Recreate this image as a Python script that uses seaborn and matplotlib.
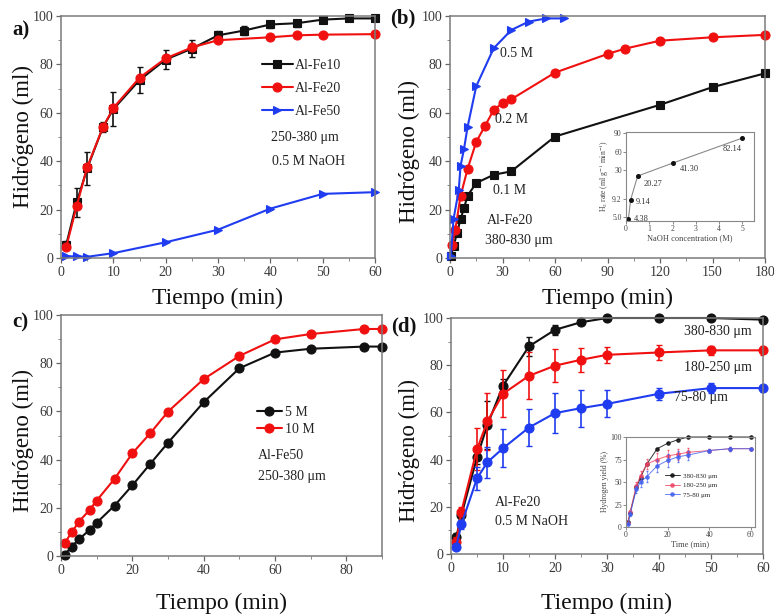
import numpy as np
import pandas as pd
import matplotlib
matplotlib.use("Agg")
import matplotlib.pyplot as plt
import seaborn as sns
from matplotlib.ticker import AutoMinorLocator, FixedLocator, FixedFormatter

# ---------------- data ----------------
# panel a (250-380 um, 0.5 M NaOH)
a_t_fe10 = [1, 3, 5, 8, 10, 15, 20, 25, 30, 35, 40, 45, 50, 55, 60]
a_h_fe10 = [5.5, 23, 37, 54, 61.5, 73.5, 82, 86.5, 92, 94, 96.5, 97, 98.5, 99, 99]
a_e_fe10 = [1.5, 6, 7, 2, 7, 5.5, 4, 3.5, 2, 2, 1.5, 1.5, 1, 1, 1]
a_t_fe20 = [1, 3, 5, 8, 10, 15, 20, 25, 30, 40, 45, 50, 60]
a_h_fe20 = [4.5, 21.5, 37.5, 54, 62, 74.5, 82.5, 87, 90, 91.2, 92, 92.3, 92.5]
a_t_fe50 = [1, 3, 5, 10, 20, 30, 40, 50, 60]
a_h_fe50 = [0.7, 0.7, 0.5, 2, 6.5, 11.7, 20.4, 26.5, 27.2]
a_labels = ["Al-Fe10", "Al-Fe20", "Al-Fe50"]

# panel b (Al-Fe20, 380-830 um)
b_t_01 = [0.5, 2, 4, 6, 8, 10, 15, 25, 35, 60, 120, 150, 180]
b_h_01 = [1, 4.8, 10.3, 16, 20.6, 25.7, 31, 34.4, 35.8, 50.2, 63.3, 70.6, 76.3]
b_t_02 = [1, 3, 6, 10, 15, 20, 25, 30, 35, 60, 90, 100, 120, 150, 180]
b_h_02 = [5.5, 11.5, 25.5, 36.7, 48, 54.6, 61.2, 64, 65.6, 76.6, 84.3, 86.5, 89.8, 91.2, 92.2]
b_t_05 = [0.5, 2, 5, 6, 8, 10, 15, 25, 35, 45, 55, 65]
b_h_05 = [1, 16, 28, 38, 45, 54, 71, 86.7, 94.2, 97.7, 99, 99]
b_labels = ["0.1 M", "0.2 M", "0.5 M"]

# panel b inset
bi_conc = [0.1, 0.2, 0.5, 2, 5]
bi_rate = [4.38, 9.14, 20.27, 41.30, 82.14]
bi_rate_labels = ["4.38", "9.14", "20.27", "41.30", "82.14"]
bi_yticks = [5, 9.2, 30, 60, 90]
bi_yticklabels = ["5.0", "9.2", "30", "60", "90"]

# panel c (Al-Fe50, 250-380 um)
c_t = [1, 3, 5, 8, 10, 15, 20, 25, 30, 40, 50, 60, 70, 85, 90]
c_h_5M = [0.5, 3.9, 6.9, 10.8, 13.8, 20.9, 29.3, 38.2, 47, 63.8, 77.9, 84.4, 86, 86.9, 86.9]
c_h_10M = [5.3, 9.8, 14.2, 19.1, 23, 32, 42.6, 50.9, 59.9, 73.4, 83, 89.9, 92.1, 94.2, 94.2]
c_labels = ["5 M", "10 M"]

# panel d (Al-Fe20, 0.5 M NaOH)
d_t = [1, 2, 5, 7, 10, 15, 20, 25, 30, 40, 50, 60]
d_h_large = [7, 16.5, 41, 54.7, 71.3, 88, 95, 98.2, 100, 100, 100, 99.3]
d_e_large = [2, 2, 3, 10, 3, 4, 2, 1, 0.5, 0.5, 0.5, 0.5]
d_h_mid = [5.2, 18, 44.4, 56.2, 67.9, 75.5, 79.8, 82.3, 84.4, 85.4, 86.3, 86.3]
d_e_mid = [2, 2, 9, 12, 10, 10, 7, 5, 3.5, 3, 2, 2]
d_h_small = [3.1, 12.6, 32, 38.9, 44.8, 53.6, 59.7, 61.8, 63.6, 67.9, 70.3, 70.3]
d_e_small = [1, 2, 5, 6.5, 8, 8, 8.5, 7.8, 5.7, 2.5, 2, 1.5]
d_labels = ["380-830 \u03bcm", "180-250 \u03bcm", "75-80 \u03bcm"]

# panel d inset (yield %)
di_t = [1, 2, 5, 7, 10, 15, 20, 25, 30, 40, 50, 60]
di_large = [6, 16, 44, 55, 70, 87, 93, 97, 100, 100, 100, 100]
di_mid = [5, 17, 46, 57, 70, 75, 79, 81, 83, 85, 87, 87]
di_small = [3, 14, 42, 50, 56, 68, 74, 78, 80, 85, 87, 87]
di_e = [1, 2, 4, 5, 6, 7, 7, 6, 5, 2, 2, 1]

# ---------------- style ----------------
sns.set_theme(style="ticks")
plt.rcParams["font.family"] = ["Liberation Serif", "DejaVu Serif"]
plt.rcParams["mathtext.fontset"] = "stix"

BLACK = "#111111"
RED = "#f01010"
BLUE = "#1f3cf0"

W, H = 774, 616
fig = plt.figure(figsize=(W / 100, H / 100), dpi=100)


def px_axes(left, top, right, bottom):
    return fig.add_axes([left / W, 1 - bottom / H, (right - left) / W, (bottom - top) / H])


def series(ax, x, y, color, marker, ms=6, lw=1.5, err=None, alpha=1.0, capsize=2.2, elw=1.2):
    df = pd.DataFrame({"t": x, "h": y})
    sns.lineplot(data=df, x="t", y="h", ax=ax, color=color, marker=marker,
                 markersize=ms, markeredgecolor=color, markeredgewidth=0.8,
                 linewidth=lw, errorbar=None, sort=False, alpha=alpha, legend=False)
    line = ax.lines[-1]
    line.set_clip_on(False)
    if err is not None:
        ax.errorbar(x, y, yerr=err, fmt="none", ecolor=color, elinewidth=elw,
                    capsize=capsize, capthick=1.0, alpha=alpha)
    return line


def style(ax, xlim, xticks, ylab_x, ylab_y, xlab_y):
    ax.set_xlim(*xlim)
    ax.set_ylim(0, 100)
    ax.set_xticks(xticks)
    ax.set_yticks(range(0, 101, 20))
    ax.xaxis.set_minor_locator(AutoMinorLocator(2))
    ax.yaxis.set_minor_locator(AutoMinorLocator(2))
    ax.tick_params(which="major", direction="out", length=3.5, width=0.9, color="#666",
                   labelsize=10, labelcolor="#3a3a3a", pad=2)
    ax.tick_params(which="minor", direction="out", length=2, width=0.7, color="#888")
    for s in ax.spines.values():
        s.set_visible(True)
        s.set_color("#7a7a7a")
        s.set_linewidth(1.1)
    ax.set_xlabel("Tiempo (min)", fontsize=17, color="#111")
    ax.xaxis.set_label_coords(0.5, xlab_y)
    ax.set_ylabel("Hidrógeno (ml)", fontsize=16.5, color="#111")
    ax.yaxis.set_label_coords(ylab_x, ylab_y)


txt_kw = dict(fontsize=10, color="#222")

# ---------------- panel a ----------------
ax_a = px_axes(61, 16, 375, 258)
la1 = series(ax_a, a_t_fe10, a_h_fe10, BLACK, "s", ms=5.5, err=a_e_fe10)
la2 = series(ax_a, a_t_fe20, a_h_fe20, RED, "o", ms=6.5)
la3 = series(ax_a, a_t_fe50, a_h_fe50, BLUE, ">", ms=6)
style(ax_a, (0, 60), range(0, 61, 10), -0.086, 0.5, -0.124)
ax_a.legend([la1, la2, la3], a_labels, loc="upper left", bbox_to_anchor=(0.64, 0.822),
            frameon=False, fontsize=10, handlelength=2.2, handletextpad=0.2,
            labelspacing=0.72, borderpad=0, borderaxespad=0)
ax_a.text(0.777, 0.496, "250-380 \u03bcm", ha="center", va="center", transform=ax_a.transAxes, **txt_kw)
ax_a.text(0.787, 0.397, "0.5 M NaOH", ha="center", va="center", transform=ax_a.transAxes, **txt_kw)

# ---------------- panel b ----------------
ax_b = px_axes(450, 16, 765, 258)
series(ax_b, b_t_01, b_h_01, BLACK, "s", ms=6)
series(ax_b, b_t_02, b_h_02, RED, "o", ms=6.5)
series(ax_b, b_t_05, b_h_05, BLUE, ">", ms=6)
style(ax_b, (0, 180), range(0, 181, 30), -0.095, 0.44, -0.124)
ax_b.text(0.159, 0.847, b_labels[2], ha="left", va="center", transform=ax_b.transAxes, **txt_kw)
ax_b.text(0.143, 0.574, b_labels[1], ha="left", va="center", transform=ax_b.transAxes, **txt_kw)
ax_b.text(0.137, 0.277, b_labels[0], ha="left", va="center", transform=ax_b.transAxes, **txt_kw)
ax_b.text(0.117, 0.153, "Al-Fe20", ha="left", va="center", transform=ax_b.transAxes, **txt_kw)
ax_b.text(0.111, 0.074, "380-830 \u03bcm", ha="left", va="center", transform=ax_b.transAxes, **txt_kw)

# inset b
ax_bi = px_axes(626, 132, 754, 221)
_vals = [0, 4, 10, 20, 100]
_pos = [-50, 0, 75, 135, 283]
ax_bi.set_yscale("function", functions=(lambda v: np.interp(v, _vals, _pos),
                                         lambda p: np.interp(p, _pos, _vals)))
sns.lineplot(x=bi_conc, y=bi_rate, ax=ax_bi, color="#8a8a8a", linewidth=0.8, marker="o",
             markersize=2.8, markerfacecolor="#111", markeredgecolor="#111", errorbar=None,
             sort=False, legend=False)
ax_bi.set_xlim(0, 5.5)
ax_bi.set_ylim(4.0, 92)
ax_bi.set_xticks(range(0, 6))
ax_bi.yaxis.set_major_locator(FixedLocator(bi_yticks))
ax_bi.yaxis.set_major_formatter(FixedFormatter(bi_yticklabels))
ax_bi.yaxis.set_minor_locator(FixedLocator([]))
ax_bi.tick_params(which="major", direction="out", length=2, width=0.6, color="#777",
                  labelsize=5.5, labelcolor="#444", pad=1)
for s in ax_bi.spines.values():
    s.set_visible(True)
    s.set_color("#888")
    s.set_linewidth(0.8)
ax_bi.set_xlabel("NaOH concentration (M)", fontsize=6, color="#444", labelpad=1)
ax_bi.set_ylabel("H$_2$ rate (ml g$^{-1}$ min$^{-1}$)", fontsize=5.5, color="#444", labelpad=1)
_offs = [(4, 0), (4, -2), (4, -6), (5, -4), (-14, -8)]
for xv, yv, lab, (dx, dy) in zip(bi_conc, bi_rate, bi_rate_labels, _offs):
    ax_bi.annotate(lab, (xv, yv), xytext=(dx, dy), textcoords="offset points",
                   fontsize=6, color="#333", va="center", ha="left")

# ---------------- panel c ----------------
ax_c = px_axes(61, 315, 382, 556)
lc1 = series(ax_c, c_t, c_h_5M, BLACK, "o", ms=6.5)
lc2 = series(ax_c, c_t, c_h_10M, RED, "o", ms=6.5)
style(ax_c, (0, 90), range(0, 81, 20), -0.084, 0.48, -0.154)
ax_c.legend([lc1, lc2], c_labels, loc="upper left", bbox_to_anchor=(0.61, 0.622),
            frameon=False, fontsize=10, handlelength=1.8, handletextpad=0.25,
            labelspacing=0.25, borderpad=0, borderaxespad=0)
ax_c.text(0.614, 0.419, "Al-Fe50", ha="left", va="center", transform=ax_c.transAxes, **txt_kw)
ax_c.text(0.614, 0.328, "250-380 \u03bcm", ha="left", va="center", transform=ax_c.transAxes, **txt_kw)

# ---------------- panel d ----------------
ax_d = px_axes(451, 318, 763, 554)
series(ax_d, d_t, d_h_large, BLACK, "o", ms=6.5, err=d_e_large)
series(ax_d, d_t, d_h_mid, RED, "o", ms=6.5, err=d_e_mid)
series(ax_d, d_t, d_h_small, BLUE, "o", ms=6.5, err=d_e_small)
style(ax_d, (0, 60), range(0, 61, 10), -0.099, 0.44, -0.165)
ax_d.text(0.965, 0.941, d_labels[0], ha="right", va="center", transform=ax_d.transAxes, **txt_kw)
ax_d.text(0.965, 0.792, d_labels[1], ha="right", va="center", transform=ax_d.transAxes, **txt_kw)
ax_d.text(0.888, 0.665, d_labels[2], ha="right", va="center", transform=ax_d.transAxes, **txt_kw)
ax_d.text(0.141, 0.22, "Al-Fe20", ha="left", va="center", transform=ax_d.transAxes, **txt_kw)
ax_d.text(0.141, 0.136, "0.5 M NaOH", ha="left", va="center", transform=ax_d.transAxes, **txt_kw)

# inset d
ax_di = px_axes(626, 437, 755, 527)
h1 = series(ax_di, di_t, di_large, BLACK, "o", ms=2.5, lw=0.7, alpha=0.85)
h2 = series(ax_di, di_t, di_mid, "#f04060", "o", ms=2.5, lw=0.7, alpha=0.8, err=di_e, capsize=0.8, elw=0.5)
h3 = series(ax_di, di_t, di_small, "#4060f0", "o", ms=2.5, lw=0.7, alpha=0.8, err=di_e, capsize=0.8, elw=0.5)
ax_di.set_xlim(0, 62)
ax_di.set_ylim(0, 100)
ax_di.set_xticks(range(0, 61, 20))
ax_di.set_yticks(range(0, 101, 25))
ax_di.tick_params(which="major", direction="out", length=2, width=0.6, color="#777",
                  labelsize=5.5, labelcolor="#444", pad=1)
for s in ax_di.spines.values():
    s.set_visible(True)
    s.set_color("#888")
    s.set_linewidth(0.8)
ax_di.set_xlabel("Time (min)", fontsize=6, color="#444", labelpad=1)
ax_di.set_ylabel("Hydrogen yield (%)", fontsize=5.5, color="#444", labelpad=1)
ax_di.legend([h1, h2, h3], d_labels, loc="upper left", bbox_to_anchor=(0.3, 0.6),
             frameon=False, fontsize=5, handlelength=2.2, handletextpad=0.4,
             labelspacing=0.5, borderpad=0, borderaxespad=0)

# ---------------- panel letters ----------------
for s, x, y in [("a)", 12, 30), ("(b)", 390, 18), ("c)", 12, 322), ("(d)", 391, 326)]:
    fig.text(x / W, 1 - y / H, s, ha="left", va="center", fontsize=15,
             fontweight="bold", color="#111")

fig.savefig("out.png", dpi=100)
